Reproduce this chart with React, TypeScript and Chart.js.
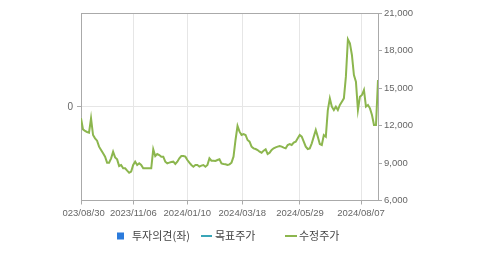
import React, { useEffect, useRef } from "react";
import { Chart, registerables } from "chart.js";

Chart.register(...registerables);

// 수정주가 (adjusted price), one value per sampled trading day
const priceValues: number[] = [
  12576, 11693, 11560, 11480, 11427, 12576, 11240, 10973, 10787, 10307,
  10040, 9773, 9507, 9027, 9027, 9373, 9907, 9453, 9293, 8760,
  8840, 8573, 8573, 8387, 8227, 8307, 8840, 9107, 8840, 8973,
  8840, 8573, 8573, 8573, 8573, 8573, 10093, 9560, 9720, 9640,
  9507, 9507, 9107, 8973, 9027, 9080, 9107, 8920, 9107, 9373,
  9560, 9560, 9507, 9240, 9027, 8840, 8707, 8840, 8840, 8707,
  8787, 8840, 8707, 8840, 9373, 9187, 9187, 9160, 9240, 9293,
  8973, 8920, 8893, 8840, 8893, 9027, 9507, 10840, 11960, 11507,
  11240, 11320, 11240, 10840, 10707, 10307, 10173, 10120, 10040, 9907,
  9827, 9987, 10093, 9720, 9827, 10040, 10173, 10253, 10307, 10360,
  10307, 10227, 10173, 10440, 10520, 10440, 10627, 10707, 10973, 11240,
  11107, 10707, 10307, 10120, 10173, 10573, 11107, 11640, 11107, 10520,
  10440, 11240, 11107, 13240, 14173, 13507, 13240, 13507, 13240, 13640,
  13907, 14173, 15907, 18893, 18573, 17640, 16040, 15507, 13240, 14307,
  14440, 14840, 13507, 13640, 13373, 12840, 12040, 12040, 15640,
];

// x-axis date labels and the sample index where each one sits
const dateLabels: string[] = [
  "2023/08/30", "2023/11/06", "2024/01/10", "2024/03/18", "2024/05/29", "2024/08/07",
];
const dateTickIndex: number[] = [0, 26.06, 52.97, 80.38, 109.13, 139.53];

// right axis (price) range
const priceMin = 6000;
const priceMax = 21000;
const priceStep = 3000;

// legend
const legendLabels: string[] = ["투자의견(좌)", "목표주가", "수정주가"];
const legendColors: string[] = ["#2b7bdc", "#3aa6b8", "#8cb64e"];

const SHIFT = 60; // canvas starts 60px left of the visible window
const TICK_FONT = "'Liberation Sans', Arial, sans-serif";

export default function App() {
  const ref = useRef<HTMLCanvasElement | null>(null);

  useEffect(() => {
    document.body.style.margin = "0";
    const canvas = ref.current;
    if (!canvas) return;

    const framePlugin = {
      id: "frame",
      afterDatasetsDraw(chart: any) {
        const { ctx, chartArea } = chart;
        ctx.save();
        ctx.strokeStyle = "#aaaaaa";
        ctx.lineWidth = 1;
        ctx.beginPath();
        ctx.moveTo(chartArea.left, Math.round(chartArea.top) + 0.5);
        ctx.lineTo(chartArea.right, Math.round(chartArea.top) + 0.5);
        ctx.stroke();
        ctx.restore();
      },
      afterDraw(chart: any) {
        const { ctx } = chart;
        ctx.save();
        // the source image is cut at the left edge of the first date label
        ctx.fillStyle = "#ffffff";
        ctx.fillRect(0, 203, SHIFT + 62.5, 20);
        const cy = 236;
        ctx.font = "11px 'Noto Sans CJK KR', sans-serif";
        ctx.textBaseline = "middle";
        ctx.fillStyle = legendColors[0];
        ctx.fillRect(SHIFT + 117, cy - 3.5, 7, 7);
        ctx.fillStyle = "#444444";
        ctx.fillText(legendLabels[0], SHIFT + 132, cy);
        ctx.fillStyle = legendColors[1];
        ctx.fillRect(SHIFT + 201, cy - 1, 11, 2);
        ctx.fillStyle = "#444444";
        ctx.fillText(legendLabels[1], SHIFT + 215, cy);
        ctx.fillStyle = legendColors[2];
        ctx.fillRect(SHIFT + 285, cy - 1, 12, 2);
        ctx.fillStyle = "#444444";
        ctx.fillText(legendLabels[2], SHIFT + 299, cy);
        ctx.restore();
      },
    };

    const chart = new Chart(canvas, {
      type: "line",
      data: {
        labels: priceValues.map((_, i) => i),
        datasets: [
          {
            label: legendLabels[2],
            data: priceValues.map((v, i) => ({ x: i, y: v })),
            borderColor: legendColors[2],
            borderWidth: 2,
            pointRadius: 0,
            tension: 0,
            yAxisID: "yR",
          },
        ],
      },
      options: {
        animation: false,
        responsive: false,
        maintainAspectRatio: false,
        layout: { padding: { top: 13, left: 0, right: 0, bottom: 0 } },
        plugins: { legend: { display: false }, tooltip: { enabled: false } },
        scales: {
          x: {
            type: "linear",
            min: 0,
            max: priceValues.length - 1,
            afterBuildTicks: (s: any) => {
              s.ticks = dateTickIndex.map((v) => ({ value: v }));
            },
            afterFit: (s: any) => {
              s.height = 54.5;
            },
            ticks: {
              autoSkip: false,
              maxRotation: 0,
              minRotation: 0,
              padding: 3,
              color: "#666666",
              font: { family: TICK_FONT, size: 9.5 },
              callback: (_v: any, i: number) => dateLabels[i],
            },
            grid: { color: "#e6e6e6", tickColor: "#aaaaaa", tickLength: 4 },
            border: { color: "#aaaaaa" },
          },
          yL: {
            position: "left",
            min: -1,
            max: 1,
            afterBuildTicks: (s: any) => {
              s.ticks = [{ value: 0 }];
            },
            afterFit: (s: any) => {
              s.width = SHIFT + 81;
            },
            ticks: {
              padding: 4,
              color: "#666666",
              font: { family: TICK_FONT, size: 10 },
              callback: (v: any) => String(v),
            },
            grid: { color: "#e6e6e6", tickColor: "#aaaaaa", tickLength: 4 },
            border: { color: "#aaaaaa" },
          },
          yR: {
            position: "right",
            min: priceMin,
            max: priceMax,
            ticks: {
              stepSize: priceStep,
              padding: 2,
              color: "#666666",
              font: { family: TICK_FONT, size: 9.5 },
              callback: (v: any) => Number(v).toLocaleString("en-US"),
            },
            afterFit: (s: any) => {
              s.width = 101;
            },
            grid: { drawOnChartArea: false, tickColor: "#aaaaaa", tickLength: 4 },
            border: { color: "#aaaaaa" },
          },
        },
      } as any,
      plugins: [framePlugin],
    });
    return () => chart.destroy();
  }, []);

  return (
    <div style={{ width: 479, height: 255, overflow: "hidden", position: "relative" }}>
      <canvas
        ref={ref}
        width={479 + SHIFT}
        height={255}
        style={{ display: "block", marginLeft: -SHIFT, width: 479 + SHIFT, height: 255 }}
      />
    </div>
  );
}
